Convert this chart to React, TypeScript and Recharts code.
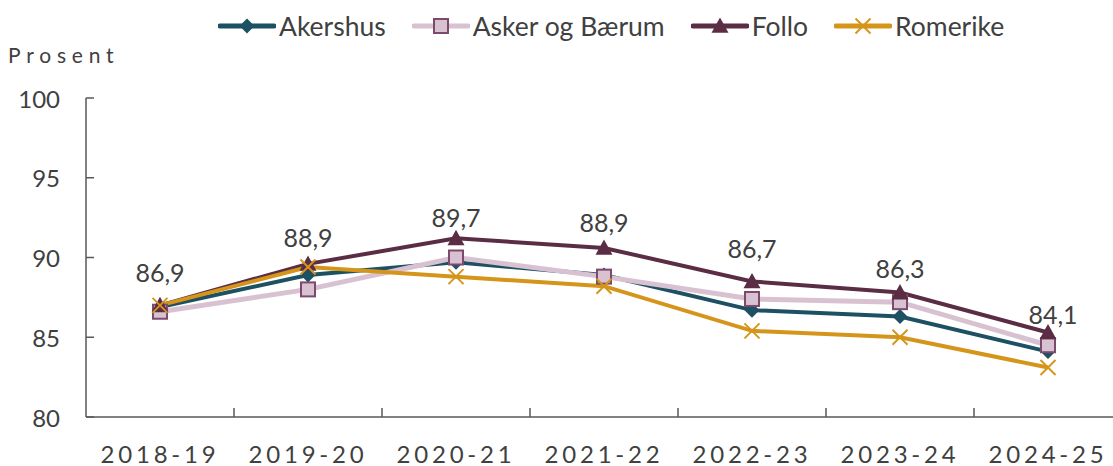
import React from 'react';
import { LineChart, Line, XAxis, YAxis, LabelList } from 'recharts';

const categories = ['2018-19', '2019-20', '2020-21', '2021-22', '2022-23', '2023-24', '2024-25'];
const akershus = [86.9, 88.9, 89.7, 88.9, 86.7, 86.3, 84.1];
const askerBaerum = [86.6, 88.0, 90.0, 88.8, 87.4, 87.2, 84.5];
const follo = [87.0, 89.6, 91.2, 90.6, 88.5, 87.8, 85.3];
const romerike = [87.0, 89.4, 88.8, 88.2, 85.4, 85.0, 83.1];
const yTicks = [80, 85, 90, 95, 100];

const data = categories.map((name, i) => ({
  name,
  akershus: akershus[i],
  askerBaerum: askerBaerum[i],
  follo: follo[i],
  romerike: romerike[i],
}));

const FONT = 'Lato, "Open Sans", sans-serif';
const TEXT = '#404040';
const AXIS = '#595959';

const C_AK = '#1D5062';
const C_AB = '#D8C2D2';
const C_AB_EDGE = '#7B4A6C';
const C_FO = '#5B2D45';
const C_RO = '#D4951A';

const WIDTH = 1125;
const HEIGHT = 466;
const MARGIN = { top: 98, right: 3, left: 26, bottom: 48 };
const Y_AXIS_W = 60;
const AXIS_X = MARGIN.left + Y_AXIS_W;
const AXIS_Y = HEIGHT - MARGIN.bottom - 1;
const BAND = (WIDTH - AXIS_X - MARGIN.right) / categories.length;

// label nudges so the numbers sit clear of the lines (as in the original)
const labelDy = [-35, -38, -45, -53, -62, -49, -38];
const labelDx = [0, 0, 0, 0, 0, 0, 5];

const Diamond = ({ cx, cy, color, s = 7.5 }: any) =>
  cx == null ? null : (
    <path d={`M${cx},${cy - s}L${cx + s},${cy}L${cx},${cy + s}L${cx - s},${cy}Z`} fill={color} />
  );

const Square = ({ cx, cy, s = 7 }: any) =>
  cx == null ? null : (
    <rect x={cx - s} y={cy - s} width={s * 2} height={s * 2} fill={C_AB} stroke={C_AB_EDGE} strokeWidth={2} />
  );

const Triangle = ({ cx, cy, color, s = 8.5 }: any) =>
  cx == null ? null : (
    <path d={`M${cx},${cy - s}L${cx + s},${cy + s * 0.8}L${cx - s},${cy + s * 0.8}Z`} fill={color} />
  );

const Cross = ({ cx, cy, color, s = 7.5 }: any) =>
  cx == null ? null : (
    <g stroke={color} strokeWidth={2}>
      <line x1={cx - s} y1={cy - s} x2={cx + s} y2={cy + s} />
      <line x1={cx - s} y1={cy + s} x2={cx + s} y2={cy - s} />
    </g>
  );

const YTick = ({ y, payload }: any) => (
  <g>
    <line x1={AXIS_X} y1={y} x2={AXIS_X + 8} y2={y} stroke={AXIS} strokeWidth={1.5} />
    <text x={AXIS_X - 26} y={y} textAnchor="end" dominantBaseline="central" fill={TEXT} fontSize={24} fontFamily={FONT}>
      {payload.value}
    </text>
  </g>
);

const XTick = ({ x, payload }: any) => (
  <g>
    <line x1={x + BAND / 2} y1={AXIS_Y} x2={x + BAND / 2} y2={AXIS_Y - 9} stroke={AXIS} strokeWidth={1.5} />
    <text x={x} y={AXIS_Y + 36} textAnchor="middle" dominantBaseline="central" fill={TEXT} fontSize={24} letterSpacing={3.8} fontFamily={FONT}>
      {payload.value}
    </text>
  </g>
);

const ValueLabel = ({ x, y, value, index }: any) => (
  <text
    x={x + labelDx[index]}
    y={y + labelDy[index]}
    textAnchor="middle"
    dominantBaseline="central"
    fill={TEXT}
    fontSize={25}
    fontFamily={FONT}
  >
    {String(value).replace('.', ',')}
  </text>
);

const legendItems = [
  { name: 'Akershus', line: C_AK, mark: (cx: number, cy: number) => <Diamond cx={cx} cy={cy} color={C_AK} /> },
  { name: 'Asker og Bærum', line: C_AB, mark: (cx: number, cy: number) => <Square cx={cx} cy={cy} /> },
  { name: 'Follo', line: C_FO, mark: (cx: number, cy: number) => <Triangle cx={cx} cy={cy} color={C_FO} /> },
  { name: 'Romerike', line: C_RO, mark: (cx: number, cy: number) => <Cross cx={cx} cy={cy} color={C_RO} /> },
];

const ChartLegend = () => (
  <div
    style={{
      position: 'absolute',
      top: 10,
      left: 218,
      display: 'flex',
      alignItems: 'center',
      gap: 26,
      fontFamily: FONT,
      fontSize: 26.5,
      color: TEXT,
      zIndex: 2,
    }}
  >
    {legendItems.map((it) => (
      <div key={it.name} style={{ display: 'flex', alignItems: 'center' }}>
        <svg width={58} height={26}>
          <line x1={2} y1={13} x2={56} y2={13} stroke={it.line} strokeWidth={5} strokeLinecap="round" />
          {it.mark(29, 13)}
        </svg>
        <span style={{ marginLeft: 3 }}>{it.name}</span>
      </div>
    ))}
  </div>
);

export default function App() {
  return (
    <div style={{ position: 'absolute', left: 0, top: 0, width: 1113, height: 466, overflow: 'hidden', background: '#fff' }}>
      <ChartLegend />
      <div style={{ position: 'absolute', left: 8, top: 42, fontFamily: FONT, fontSize: 21, letterSpacing: 5.8, color: TEXT }}>
        Prosent
      </div>
      <LineChart width={WIDTH} height={HEIGHT} data={data} margin={MARGIN}>
        <XAxis
          dataKey="name"
          height={1}
          axisLine={{ stroke: AXIS, strokeWidth: 1.5 }}
          tickLine={false}
          tickSize={0}
          tickMargin={0}
          tick={<XTick />}
          interval={0}
          padding={{ left: BAND / 2, right: BAND / 2 }}
        />
        <YAxis
          domain={[80, 100]}
          ticks={yTicks}
          width={Y_AXIS_W}
          axisLine={{ stroke: AXIS, strokeWidth: 1.5 }}
          tickLine={false}
          tickSize={0}
          tickMargin={0}
          tick={<YTick />}
          interval={0}
        />
        <Line
          dataKey="akershus"
          name="Akershus"
          stroke={C_AK}
          strokeWidth={4}
          dot={(p: any) => <Diamond key={p.index} cx={p.cx} cy={p.cy} color={C_AK} />}
          isAnimationActive={false}
        >
          <LabelList dataKey="akershus" content={<ValueLabel />} />
        </Line>
        <Line
          dataKey="askerBaerum"
          name="Asker og Bærum"
          stroke={C_AB}
          strokeWidth={5}
          dot={(p: any) => <Square key={p.index} cx={p.cx} cy={p.cy} />}
          isAnimationActive={false}
        />
        <Line
          dataKey="follo"
          name="Follo"
          stroke={C_FO}
          strokeWidth={4}
          dot={(p: any) => <Triangle key={p.index} cx={p.cx} cy={p.cy} color={C_FO} />}
          isAnimationActive={false}
        />
        <Line
          dataKey="romerike"
          name="Romerike"
          stroke={C_RO}
          strokeWidth={4}
          dot={(p: any) => <Cross key={p.index} cx={p.cx} cy={p.cy} color={C_RO} />}
          isAnimationActive={false}
        />
      </LineChart>
    </div>
  );
}
